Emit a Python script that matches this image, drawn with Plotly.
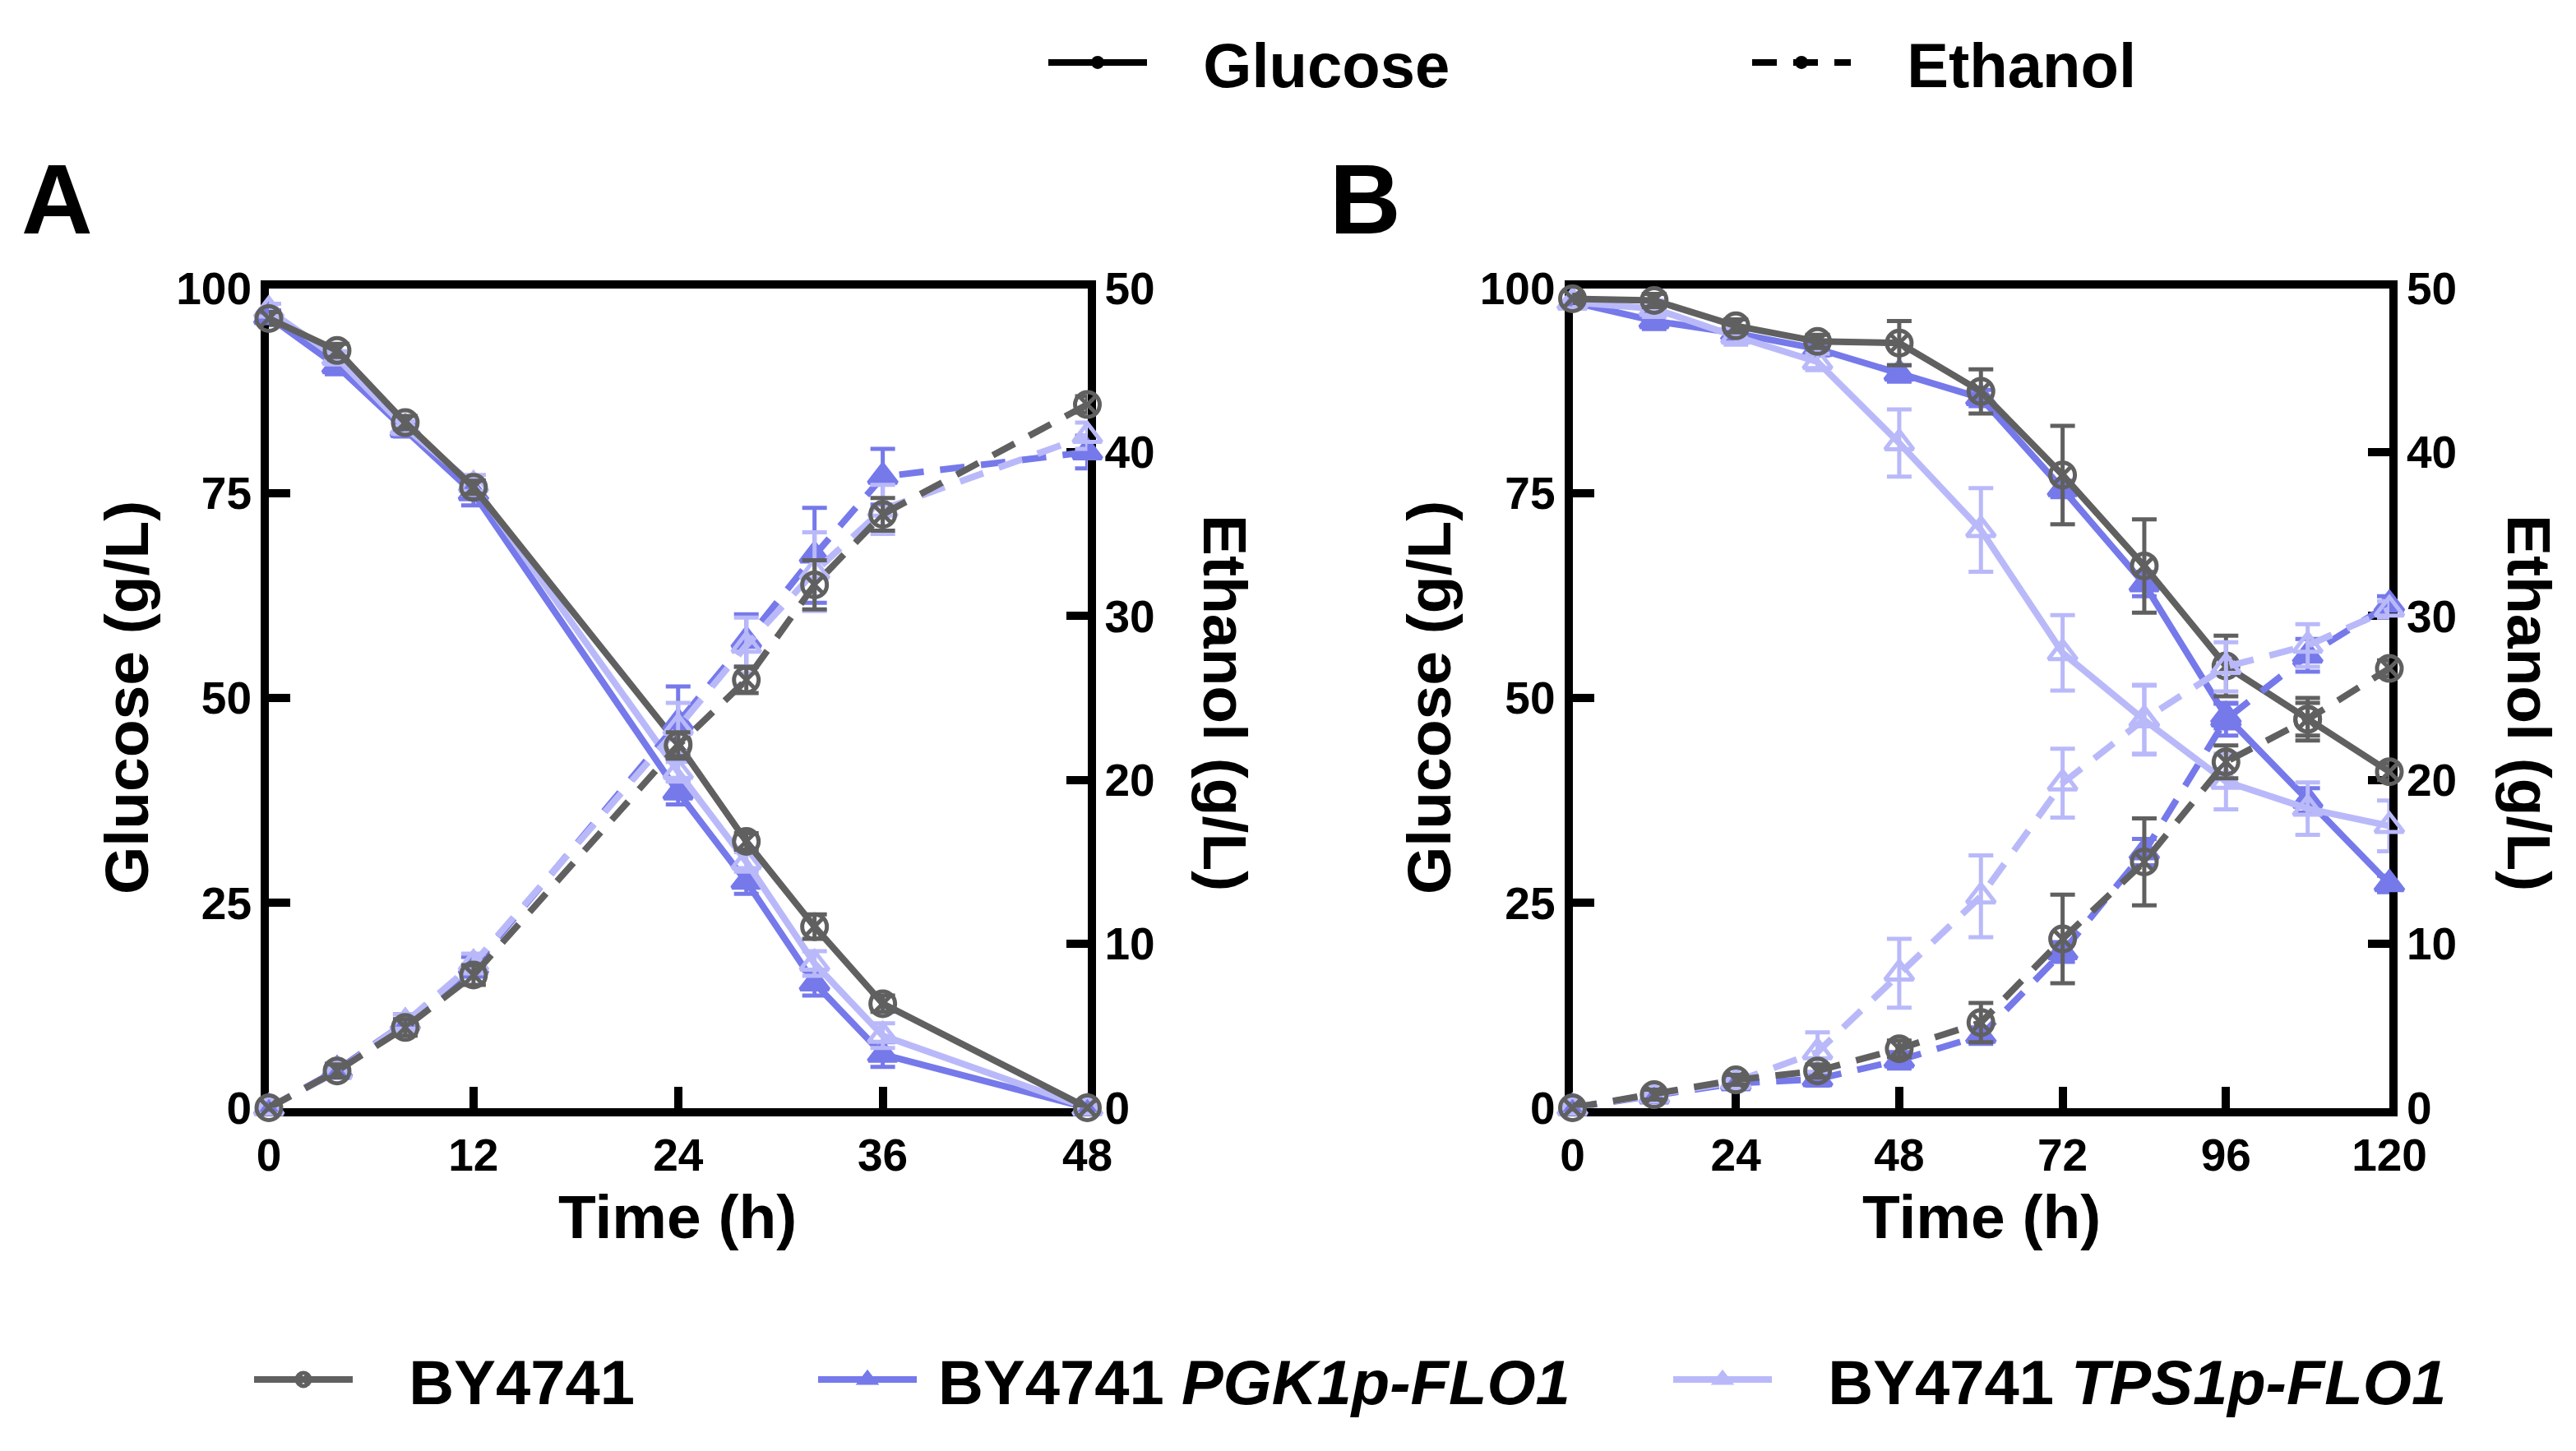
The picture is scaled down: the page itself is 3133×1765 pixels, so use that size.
import plotly.graph_objects as go

W, H = 3133, 1765

# ---------------- data ----------------
time_a = [0, 4, 8, 12, 24, 28, 32, 36, 48]
glc_a_by = [96.3, 92.4, 83.6, 75.7, 44.4, 32.5, 22.1, 12.7, 0.0]
glc_a_by_err = [0.8, 0.8, 0.8, 0.8, 1.2, 1.0, 1.5, 1.0, 0.3]
glc_a_pgk = [96.5, 90.5, 82.7, 75.0, 38.5, 27.6, 15.2, 6.5, 0.0]
glc_a_pgk_err = [0.8, 1.0, 0.8, 1.5, 1.5, 1.5, 1.5, 1.5, 0.3]
glc_a_tps = [97.3, 91.5, 83.0, 76.0, 41.0, 30.0, 17.6, 8.8, 0.0]
glc_a_tps_err = [0.8, 0.8, 0.8, 1.2, 1.2, 1.2, 1.5, 1.5, 0.3]
eth_a_by = [0.0, 2.25, 4.9, 8.1, 22.1, 26.1, 31.9, 36.2, 42.9]
eth_a_by_err = [0.2, 0.4, 0.5, 0.6, 0.8, 0.8, 1.5, 1.0, 0.5]
eth_a_pgk = [0.0, 2.3, 5.2, 8.6, 23.5, 28.5, 33.7, 38.5, 40.0]
eth_a_pgk_err = [0.2, 0.4, 0.5, 0.6, 2.2, 1.6, 2.9, 1.7, 1.0]
eth_a_tps = [0.0, 2.2, 5.2, 8.8, 23.2, 28.2, 32.7, 36.5, 41.0]
eth_a_tps_err = [0.2, 0.4, 0.5, 0.6, 1.5, 1.7, 2.4, 1.5, 0.8]

time_b = [0, 12, 24, 36, 48, 60, 72, 84, 96, 108, 120]
glc_b_by = [98.7, 98.5, 95.4, 93.5, 93.3, 87.4, 77.2, 66.1, 53.9, 47.4, 41.0]
glc_b_by_err = [0.5, 0.8, 0.8, 0.8, 2.7, 2.7, 6.0, 5.7, 3.7, 2.6, 1.0]
glc_b_pgk = [98.3, 96.0, 94.5, 92.6, 89.6, 86.6, 75.5, 63.9, 47.8, 37.5, 27.3]
glc_b_pgk_err = [0.5, 1.0, 0.8, 0.8, 1.0, 1.0, 1.0, 1.5, 1.5, 1.5, 1.0]
glc_b_tps = [98.3, 97.5, 94.1, 91.0, 81.1, 70.5, 55.5, 47.3, 39.8, 36.5, 34.4]
glc_b_tps_err = [0.5, 1.0, 1.0, 1.0, 4.1, 5.1, 4.6, 4.2, 3.4, 3.2, 3.1]
eth_b_by = [0.0, 0.8, 1.7, 2.25, 3.6, 5.2, 10.3, 15.0, 21.1, 23.7, 26.8]
eth_b_by_err = [0.2, 0.3, 0.3, 0.4, 0.5, 1.2, 2.7, 2.65, 1.0, 1.0, 0.5]
eth_b_pgk = [0.0, 0.7, 1.5, 1.75, 2.9, 4.4, 9.5, 15.6, 23.7, 27.6, 30.7]
eth_b_pgk_err = [0.2, 0.3, 0.3, 0.4, 0.5, 0.5, 0.6, 0.8, 1.0, 1.0, 0.5]
eth_b_tps = [0.0, 0.75, 1.6, 3.4, 8.2, 12.9, 19.8, 23.7, 26.9, 28.2, 30.4]
eth_b_tps_err = [0.2, 0.3, 0.4, 1.2, 2.1, 2.5, 2.1, 2.1, 1.5, 1.3, 0.5]

ticks_a = [0, 12, 24, 36, 48]
ticks_b = [0, 24, 48, 72, 96, 120]
ticks_glc = [0, 25, 50, 75, 100]
ticks_eth = [0, 10, 20, 30, 40, 50]

strain_names = ["BY4741", "BY4741 <i>PGK1p-FLO1</i>", "BY4741 <i>TPS1p-FLO1</i>"]
measure_names = ["Glucose", "Ethanol"]

# ---------------- style ----------------
FONT = "Liberation Sans, Arial, sans-serif"
C_GRAY = "#606060"
C_BLUE = "#7679EA"
C_LIGHT = "#B9B9FA"
LW = 8
DASH = "30px,20px"
MS = 30
NB = "\u00a0"

styles = {
    "by": dict(color=C_GRAY, symbol="circle-x-open"),
    "pgk": dict(color=C_BLUE, symbol="triangle-up"),
    "tps": dict(color=C_LIGHT, symbol="triangle-up-open"),
}

fig = go.Figure()


def add(x, y, err, key, xa, ya, dash, name=None, legend=None):
    st = styles[key]
    fig.add_trace(go.Scatter(
        x=x, y=y, xaxis=xa, yaxis=ya,
        mode="lines+markers",
        name=name if name else key,
        showlegend=bool(legend),
        legend=legend if legend else "legend",
        line=dict(color=st["color"], width=LW, dash=dash),
        marker=dict(symbol=st["symbol"], size=MS, color=st["color"],
                    line=dict(color=st["color"], width=5)),
        error_y=dict(type="data", array=err, visible=True, color=st["color"],
                     thickness=5, width=15),
        cliponaxis=False,
    ))


order = ["pgk", "tps", "by"]
data_a = {
    "by": (glc_a_by, glc_a_by_err, eth_a_by, eth_a_by_err),
    "pgk": (glc_a_pgk, glc_a_pgk_err, eth_a_pgk, eth_a_pgk_err),
    "tps": (glc_a_tps, glc_a_tps_err, eth_a_tps, eth_a_tps_err),
}
data_b = {
    "by": (glc_b_by, glc_b_by_err, eth_b_by, eth_b_by_err),
    "pgk": (glc_b_pgk, glc_b_pgk_err, eth_b_pgk, eth_b_pgk_err),
    "tps": (glc_b_tps, glc_b_tps_err, eth_b_tps, eth_b_tps_err),
}
leg_of = {"by": "legend3", "pgk": "legend4", "tps": "legend5"}
name_of = {"by": NB * 3 + strain_names[0], "pgk": NB + strain_names[1],
           "tps": NB * 3 + strain_names[2]}

for k in order:
    g, ge, e, ee = data_a[k]
    add(time_a, e, ee, k, "x", "y2", DASH)
for k in order:
    g, ge, e, ee = data_b[k]
    add(time_b, e, ee, k, "x2", "y4", DASH)
for k in order:
    g, ge, e, ee = data_a[k]
    add(time_a, g, ge, k, "x", "y", "solid", name=name_of[k], legend=leg_of[k])
for k in order:
    g, ge, e, ee = data_b[k]
    add(time_b, g, ge, k, "x2", "y3", "solid")

# legend-only entries for Glucose / Ethanol
for nm, dash, lg in [(measure_names[0], "solid", "legend"), (measure_names[1], DASH, "legend2")]:
    fig.add_trace(go.Scatter(
        x=[None], y=[None], xaxis="x", yaxis="y", mode="lines+markers", name=NB * 3 + nm,
        legend=lg, showlegend=True,
        line=dict(color="black", width=LW, dash=dash),
        marker=dict(symbol="circle", size=MS, color="black"),
    ))

# ---------------- layout ----------------
OFF = 8  # page body margin


def px_x(p):
    return (p - OFF) / W


def px_y(p):
    return 1 - (p - OFF) / H


LWA = 10
SH = 2.5  # compromise between axis-line centre and data edge
ax_l, ax_r = 324.5, 1325.0
bx_l, bx_r = 1910.0, 2908.5
y_t, y_b = 348.0, 1350.0

dom_a = [px_x(ax_l + SH), px_x(ax_r - SH)]
dom_b = [px_x(bx_l + SH), px_x(bx_r - SH)]
dom_y = [px_y(y_b - SH), px_y(y_t + SH)]

tickfont = dict(family=FONT, size=55, color="black", weight="bold")
axis_common = dict(showgrid=False, zeroline=False, showline=True, linecolor="black",
                   linewidth=LWA, ticks="inside", ticklen=26, tickwidth=10,
                   tickcolor="black", tickfont=tickfont, automargin=False,
                   layer="below traces")

fig.update_layout(
    width=W, height=H, margin=dict(l=0, r=0, t=0, b=0, autoexpand=False),
    paper_bgcolor="white", plot_bgcolor="white",
    font=dict(family=FONT, color="black", weight="bold"),
    xaxis=dict(domain=dom_a, range=[0, 48], tickvals=ticks_a,
               anchor="y", mirror=True, **axis_common),
    yaxis=dict(domain=dom_y, range=[0, 100], tickvals=ticks_glc,
               anchor="x", **axis_common),
    yaxis2=dict(range=[0, 50], tickvals=ticks_eth, overlaying="y",
                side="right", anchor="x", **axis_common),
    xaxis2=dict(domain=dom_b, range=[0, 120], tickvals=ticks_b,
                anchor="y3", mirror=True, **axis_common),
    yaxis3=dict(domain=dom_y, range=[0, 100], tickvals=ticks_glc,
                anchor="x2", **axis_common),
    yaxis4=dict(range=[0, 50], tickvals=ticks_eth, overlaying="y3",
                side="right", anchor="x2", **axis_common),
)

legfont = dict(family=FONT, size=76, color="black", weight="bold")
legend_pos = {
    "legend": (1270, 76),
    "legend2": (2126, 76),
    "legend3": (304, 1678),
    "legend4": (990, 1678),
    "legend5": (2030, 1678),
}
for lg, (lx, ly) in legend_pos.items():
    fig.update_layout({lg: dict(x=px_x(lx), y=px_y(ly), xanchor="left", yanchor="middle",
                                orientation="h", font=legfont, itemwidth=120,
                                bgcolor="rgba(0,0,0,0)", borderwidth=0,
                                itemsizing="trace")})

title_font = dict(family=FONT, size=75, color="black", weight="bold")
annots = [
    dict(text="Glucose (g/L)", x=px_x(154), y=px_y(849), textangle=-90),
    dict(text="Glucose (g/L)", x=px_x(1738), y=px_y(849), textangle=-90),
    dict(text="Ethanol (g/L)", x=px_x(1490), y=px_y(855), textangle=90),
    dict(text="Ethanol (g/L)", x=px_x(3076), y=px_y(855), textangle=90),
    dict(text="Time (h)", x=px_x(824), y=px_y(1480), textangle=0),
    dict(text="Time (h)", x=px_x(2410), y=px_y(1480), textangle=0),
]
for a in annots:
    fig.add_annotation(xref="paper", yref="paper", xanchor="center", yanchor="middle",
                       showarrow=False, font=title_font, **a)

for letter, lx in [("A", 69), ("B", 1660)]:
    fig.add_annotation(text=letter, xref="paper", yref="paper", x=px_x(lx), y=px_y(242),
                       xanchor="center", yanchor="middle", showarrow=False,
                       font=dict(family=FONT, size=120, color="black", weight="bold"))

fig.write_html("out.html")
